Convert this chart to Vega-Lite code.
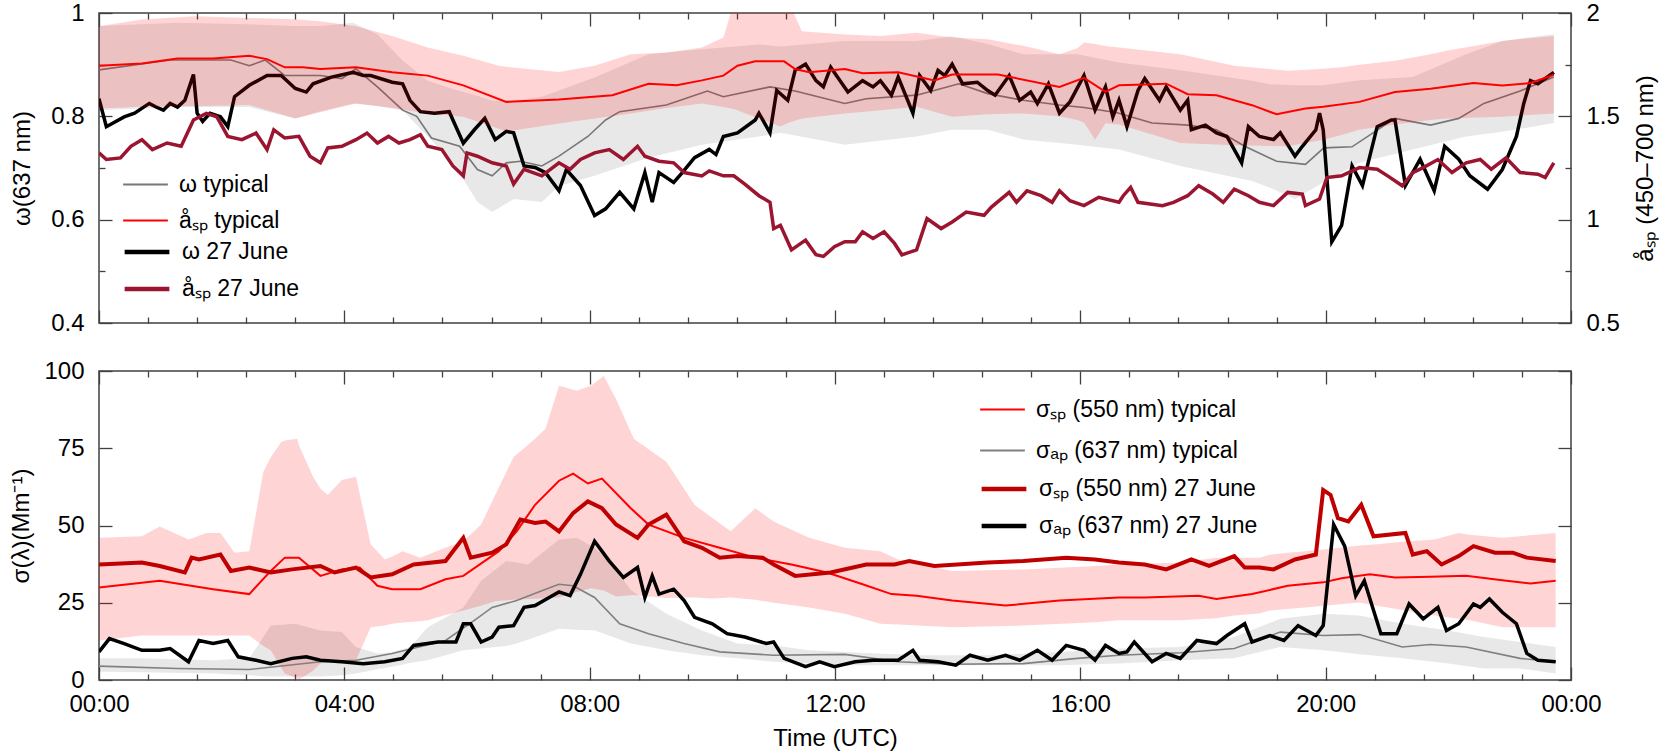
{
  "$schema": "https://vega.github.io/schema/vega-lite/v6.json",
  "autosize": {"type": "pad"},
  "padding": {"left": 9, "top": 0, "right": 4, "bottom": 0},
  "background": "white",
  "config": {
    "font": "Liberation Sans",
    "view": {"stroke": "#404040", "strokeWidth": 1.5},
    "axis": {
      "grid": false, "domain": false,
      "labelFont": "Liberation Sans", "labelFontSize": 24, "labelColor": "#000",
      "titleFont": "Liberation Sans", "titleFontSize": 24, "titleFontWeight": "normal", "titleColor": "#000",
      "tickColor": "#404040", "tickWidth": 1.3,
      "labelFlush": false, "labelOverlap": false, "labelPadding": 28
    },
    "legend": {"labelFont": "Liberation Sans", "labelFontSize": 23, "labelColor": "#000", "symbolType": "stroke", "symbolSize": 2000, "labelOffset": 10, "labelLimit": 500}
  },
  "datasets": {
    "wl": [
      {"s":"ω typical","t":0,"v":0.890},{"s":"ω typical","t":1.16,"v":0.909},{"s":"ω typical","t":2.15,"v":0.909},{"s":"ω typical","t":2.45,"v":0.898},{"s":"ω typical","t":2.71,"v":0.909},{"s":"ω typical","t":3.03,"v":0.879},{"s":"ω typical","t":3.61,"v":0.879},{"s":"ω typical","t":3.96,"v":0.873},{"s":"ω typical","t":4.19,"v":0.892},{"s":"ω typical","t":4.54,"v":0.857},{"s":"ω typical","t":4.95,"v":0.812},{"s":"ω typical","t":5.18,"v":0.800},{"s":"ω typical","t":5.42,"v":0.758},{"s":"ω typical","t":5.88,"v":0.742},{"s":"ω typical","t":6.17,"v":0.697},{"s":"ω typical","t":6.41,"v":0.685},{"s":"ω typical","t":6.64,"v":0.710},{"s":"ω typical","t":6.87,"v":0.713},{"s":"ω typical","t":7.22,"v":0.704},{"s":"ω typical","t":7.5,"v":0.723},{"s":"ω typical","t":7.97,"v":0.761},{"s":"ω typical","t":8.26,"v":0.793},{"s":"ω typical","t":8.49,"v":0.809},{"s":"ω typical","t":9.25,"v":0.822},{"s":"ω typical","t":9.92,"v":0.849},{"s":"ω typical","t":10.18,"v":0.838},{"s":"ω typical","t":10.94,"v":0.857},{"s":"ω typical","t":11.35,"v":0.849},{"s":"ω typical","t":12.16,"v":0.825},{"s":"ω typical","t":12.51,"v":0.834},{"s":"ω typical","t":13.33,"v":0.841},{"s":"ω typical","t":14.02,"v":0.863},{"s":"ω typical","t":14.49,"v":0.844},{"s":"ω typical","t":15.07,"v":0.831},{"s":"ω typical","t":15.66,"v":0.822},{"s":"ω typical","t":16.06,"v":0.817},{"s":"ω typical","t":16.6,"v":0.807},{"s":"ω typical","t":17.17,"v":0.787},{"s":"ω typical","t":17.76,"v":0.783},{"s":"ω typical","t":18.22,"v":0.774},{"s":"ω typical","t":18.68,"v":0.742},{"s":"ω typical","t":19.2,"v":0.713},{"s":"ω typical","t":19.67,"v":0.707},{"s":"ω typical","t":19.97,"v":0.739},{"s":"ω typical","t":20.43,"v":0.741},{"s":"ω typical","t":21.13,"v":0.796},{"s":"ω typical","t":21.71,"v":0.783},{"s":"ω typical","t":22.17,"v":0.796},{"s":"ω typical","t":22.58,"v":0.825},{"s":"ω typical","t":23.17,"v":0.849},{"s":"ω typical","t":23.72,"v":0.876},
      {"s":"ω 27 June","t":0,"v":0.834},{"s":"ω 27 June","t":0.12,"v":0.780},{"s":"ω 27 June","t":0.41,"v":0.799},{"s":"ω 27 June","t":0.58,"v":0.806},{"s":"ω 27 June","t":0.82,"v":0.825},{"s":"ω 27 June","t":0.93,"v":0.818},{"s":"ω 27 June","t":1.05,"v":0.812},{"s":"ω 27 June","t":1.16,"v":0.825},{"s":"ω 27 June","t":1.28,"v":0.818},{"s":"ω 27 June","t":1.4,"v":0.831},{"s":"ω 27 June","t":1.54,"v":0.881},{"s":"ω 27 June","t":1.6,"v":0.806},{"s":"ω 27 June","t":1.69,"v":0.790},{"s":"ω 27 June","t":1.81,"v":0.806},{"s":"ω 27 June","t":1.98,"v":0.799},{"s":"ω 27 June","t":2.1,"v":0.780},{"s":"ω 27 June","t":2.21,"v":0.838},{"s":"ω 27 June","t":2.45,"v":0.860},{"s":"ω 27 June","t":2.74,"v":0.879},{"s":"ω 27 June","t":2.97,"v":0.879},{"s":"ω 27 June","t":3.2,"v":0.854},{"s":"ω 27 June","t":3.38,"v":0.847},{"s":"ω 27 June","t":3.49,"v":0.863},{"s":"ω 27 June","t":3.79,"v":0.876},{"s":"ω 27 June","t":4.14,"v":0.885},{"s":"ω 27 June","t":4.31,"v":0.879},{"s":"ω 27 June","t":4.43,"v":0.879},{"s":"ω 27 June","t":4.78,"v":0.866},{"s":"ω 27 June","t":4.95,"v":0.863},{"s":"ω 27 June","t":5.07,"v":0.831},{"s":"ω 27 June","t":5.24,"v":0.809},{"s":"ω 27 June","t":5.47,"v":0.806},{"s":"ω 27 June","t":5.71,"v":0.809},{"s":"ω 27 June","t":5.94,"v":0.748},{"s":"ω 27 June","t":6.12,"v":0.774},{"s":"ω 27 June","t":6.29,"v":0.796},{"s":"ω 27 June","t":6.46,"v":0.755},{"s":"ω 27 June","t":6.64,"v":0.771},{"s":"ω 27 June","t":6.76,"v":0.768},{"s":"ω 27 June","t":6.93,"v":0.704},{"s":"ω 27 June","t":7.11,"v":0.701},{"s":"ω 27 June","t":7.28,"v":0.691},{"s":"ω 27 June","t":7.5,"v":0.656},{"s":"ω 27 June","t":7.62,"v":0.697},{"s":"ω 27 June","t":7.85,"v":0.666},{"s":"ω 27 June","t":8.08,"v":0.608},{"s":"ω 27 June","t":8.26,"v":0.621},{"s":"ω 27 June","t":8.49,"v":0.653},{"s":"ω 27 June","t":8.72,"v":0.621},{"s":"ω 27 June","t":8.9,"v":0.691},{"s":"ω 27 June","t":9.02,"v":0.634},{"s":"ω 27 June","t":9.13,"v":0.691},{"s":"ω 27 June","t":9.37,"v":0.672},{"s":"ω 27 June","t":9.51,"v":0.691},{"s":"ω 27 June","t":9.71,"v":0.720},{"s":"ω 27 June","t":9.95,"v":0.736},{"s":"ω 27 June","t":10.06,"v":0.726},{"s":"ω 27 June","t":10.18,"v":0.761},{"s":"ω 27 June","t":10.41,"v":0.768},{"s":"ω 27 June","t":10.7,"v":0.793},{"s":"ω 27 June","t":10.76,"v":0.806},{"s":"ω 27 June","t":10.94,"v":0.768},{"s":"ω 27 June","t":11.05,"v":0.850},{"s":"ω 27 June","t":11.23,"v":0.831},{"s":"ω 27 June","t":11.35,"v":0.889},{"s":"ω 27 June","t":11.52,"v":0.901},{"s":"ω 27 June","t":11.69,"v":0.869},{"s":"ω 27 June","t":11.81,"v":0.857},{"s":"ω 27 June","t":11.93,"v":0.895},{"s":"ω 27 June","t":12.04,"v":0.876},{"s":"ω 27 June","t":12.21,"v":0.847},{"s":"ω 27 June","t":12.45,"v":0.869},{"s":"ω 27 June","t":12.62,"v":0.857},{"s":"ω 27 June","t":12.74,"v":0.869},{"s":"ω 27 June","t":12.92,"v":0.841},{"s":"ω 27 June","t":13.03,"v":0.876},{"s":"ω 27 June","t":13.27,"v":0.806},{"s":"ω 27 June","t":13.38,"v":0.879},{"s":"ω 27 June","t":13.56,"v":0.850},{"s":"ω 27 June","t":13.68,"v":0.889},{"s":"ω 27 June","t":13.79,"v":0.879},{"s":"ω 27 June","t":13.91,"v":0.901},{"s":"ω 27 June","t":14.08,"v":0.863},{"s":"ω 27 June","t":14.32,"v":0.866},{"s":"ω 27 June","t":14.49,"v":0.850},{"s":"ω 27 June","t":14.61,"v":0.841},{"s":"ω 27 June","t":14.84,"v":0.879},{"s":"ω 27 June","t":15.01,"v":0.831},{"s":"ω 27 June","t":15.19,"v":0.847},{"s":"ω 27 June","t":15.3,"v":0.825},{"s":"ω 27 June","t":15.48,"v":0.863},{"s":"ω 27 June","t":15.66,"v":0.806},{"s":"ω 27 June","t":15.83,"v":0.828},{"s":"ω 27 June","t":16.06,"v":0.879},{"s":"ω 27 June","t":16.24,"v":0.812},{"s":"ω 27 June","t":16.41,"v":0.857},{"s":"ω 27 June","t":16.53,"v":0.799},{"s":"ω 27 June","t":16.63,"v":0.831},{"s":"ω 27 June","t":16.76,"v":0.780},{"s":"ω 27 June","t":16.94,"v":0.850},{"s":"ω 27 June","t":17.05,"v":0.873},{"s":"ω 27 June","t":17.29,"v":0.831},{"s":"ω 27 June","t":17.4,"v":0.857},{"s":"ω 27 June","t":17.63,"v":0.812},{"s":"ω 27 June","t":17.75,"v":0.831},{"s":"ω 27 June","t":17.81,"v":0.774},{"s":"ω 27 June","t":18.04,"v":0.783},{"s":"ω 27 June","t":18.22,"v":0.768},{"s":"ω 27 June","t":18.39,"v":0.761},{"s":"ω 27 June","t":18.63,"v":0.710},{"s":"ω 27 June","t":18.74,"v":0.780},{"s":"ω 27 June","t":18.92,"v":0.761},{"s":"ω 27 June","t":19.15,"v":0.755},{"s":"ω 27 June","t":19.26,"v":0.768},{"s":"ω 27 June","t":19.5,"v":0.723},{"s":"ω 27 June","t":19.62,"v":0.742},{"s":"ω 27 June","t":19.84,"v":0.774},{"s":"ω 27 June","t":19.9,"v":0.806},{"s":"ω 27 June","t":19.96,"v":0.774},{"s":"ω 27 June","t":20.1,"v":0.557},{"s":"ω 27 June","t":20.26,"v":0.589},{"s":"ω 27 June","t":20.43,"v":0.704},{"s":"ω 27 June","t":20.6,"v":0.666},{"s":"ω 27 June","t":20.84,"v":0.780},{"s":"ω 27 June","t":21.07,"v":0.793},{"s":"ω 27 June","t":21.13,"v":0.793},{"s":"ω 27 June","t":21.3,"v":0.666},{"s":"ω 27 June","t":21.54,"v":0.717},{"s":"ω 27 June","t":21.77,"v":0.656},{"s":"ω 27 June","t":21.94,"v":0.742},{"s":"ω 27 June","t":22.17,"v":0.717},{"s":"ω 27 June","t":22.35,"v":0.685},{"s":"ω 27 June","t":22.64,"v":0.659},{"s":"ω 27 June","t":22.88,"v":0.697},{"s":"ω 27 June","t":23.11,"v":0.761},{"s":"ω 27 June","t":23.23,"v":0.825},{"s":"ω 27 June","t":23.34,"v":0.869},{"s":"ω 27 June","t":23.46,"v":0.863},{"s":"ω 27 June","t":23.72,"v":0.885}
    ],
    "al": [
      {"s":"åₛₚ typical","t":0,"v":1.745},{"s":"åₛₚ typical","t":0.7,"v":1.756},{"s":"åₛₚ typical","t":1.28,"v":1.780},{"s":"åₛₚ typical","t":1.86,"v":1.780},{"s":"åₛₚ typical","t":2.45,"v":1.793},{"s":"åₛₚ typical","t":2.74,"v":1.777},{"s":"åₛₚ typical","t":3.03,"v":1.737},{"s":"åₛₚ typical","t":3.32,"v":1.737},{"s":"åₛₚ typical","t":3.61,"v":1.729},{"s":"åₛₚ typical","t":4.19,"v":1.737},{"s":"åₛₚ typical","t":4.78,"v":1.713},{"s":"åₛₚ typical","t":5.36,"v":1.697},{"s":"åₛₚ typical","t":5.94,"v":1.650},{"s":"åₛₚ typical","t":6.64,"v":1.570},{"s":"åₛₚ typical","t":7.5,"v":1.581},{"s":"åₛₚ typical","t":8.37,"v":1.602},{"s":"åₛₚ typical","t":8.96,"v":1.658},{"s":"åₛₚ typical","t":9.42,"v":1.650},{"s":"åₛₚ typical","t":9.83,"v":1.674},{"s":"åₛₚ typical","t":10.18,"v":1.697},{"s":"åₛₚ typical","t":10.41,"v":1.745},{"s":"åₛₚ typical","t":10.7,"v":1.766},{"s":"åₛₚ typical","t":11.17,"v":1.766},{"s":"åₛₚ typical","t":11.35,"v":1.729},{"s":"åₛₚ typical","t":11.58,"v":1.713},{"s":"åₛₚ typical","t":12.16,"v":1.729},{"s":"åₛₚ typical","t":12.45,"v":1.709},{"s":"åₛₚ typical","t":13.03,"v":1.713},{"s":"åₛₚ typical","t":13.62,"v":1.674},{"s":"åₛₚ typical","t":13.91,"v":1.702},{"s":"åₛₚ typical","t":14.66,"v":1.702},{"s":"åₛₚ typical","t":15.66,"v":1.642},{"s":"åₛₚ typical","t":16.06,"v":1.686},{"s":"åₛₚ typical","t":16.41,"v":1.618},{"s":"åₛₚ typical","t":16.63,"v":1.650},{"s":"åₛₚ typical","t":17.05,"v":1.654},{"s":"åₛₚ typical","t":17.4,"v":1.658},{"s":"åₛₚ typical","t":17.75,"v":1.607},{"s":"åₛₚ typical","t":18.22,"v":1.602},{"s":"åₛₚ typical","t":18.8,"v":1.554},{"s":"åₛₚ typical","t":19.2,"v":1.510},{"s":"åₛₚ typical","t":19.67,"v":1.538},{"s":"åₛₚ typical","t":19.96,"v":1.546},{"s":"åₛₚ typical","t":20.55,"v":1.570},{"s":"åₛₚ typical","t":21.13,"v":1.618},{"s":"åₛₚ typical","t":21.71,"v":1.634},{"s":"åₛₚ typical","t":22.41,"v":1.661},{"s":"åₛₚ typical","t":22.88,"v":1.649},{"s":"åₛₚ typical","t":23.34,"v":1.661},{"s":"åₛₚ typical","t":23.72,"v":1.701},
      {"s":"åₛₚ 27 June","t":0,"v":1.323},{"s":"åₛₚ 27 June","t":0.12,"v":1.291},{"s":"åₛₚ 27 June","t":0.35,"v":1.299},{"s":"åₛₚ 27 June","t":0.52,"v":1.355},{"s":"åₛₚ 27 June","t":0.7,"v":1.387},{"s":"åₛₚ 27 June","t":0.87,"v":1.339},{"s":"åₛₚ 27 June","t":1.11,"v":1.371},{"s":"åₛₚ 27 June","t":1.34,"v":1.355},{"s":"åₛₚ 27 June","t":1.54,"v":1.482},{"s":"åₛₚ 27 June","t":1.75,"v":1.514},{"s":"åₛₚ 27 June","t":1.92,"v":1.498},{"s":"åₛₚ 27 June","t":2.1,"v":1.403},{"s":"åₛₚ 27 June","t":2.33,"v":1.387},{"s":"åₛₚ 27 June","t":2.56,"v":1.419},{"s":"åₛₚ 27 June","t":2.74,"v":1.339},{"s":"åₛₚ 27 June","t":2.85,"v":1.435},{"s":"åₛₚ 27 June","t":3.03,"v":1.395},{"s":"åₛₚ 27 June","t":3.26,"v":1.403},{"s":"åₛₚ 27 June","t":3.44,"v":1.307},{"s":"åₛₚ 27 June","t":3.61,"v":1.275},{"s":"åₛₚ 27 June","t":3.73,"v":1.347},{"s":"åₛₚ 27 June","t":3.96,"v":1.355},{"s":"åₛₚ 27 June","t":4.19,"v":1.387},{"s":"åₛₚ 27 June","t":4.37,"v":1.419},{"s":"åₛₚ 27 June","t":4.54,"v":1.371},{"s":"åₛₚ 27 June","t":4.72,"v":1.403},{"s":"åₛₚ 27 June","t":4.89,"v":1.371},{"s":"åₛₚ 27 June","t":5.07,"v":1.387},{"s":"åₛₚ 27 June","t":5.24,"v":1.411},{"s":"åₛₚ 27 June","t":5.36,"v":1.355},{"s":"åₛₚ 27 June","t":5.59,"v":1.339},{"s":"åₛₚ 27 June","t":5.77,"v":1.260},{"s":"åₛₚ 27 June","t":5.94,"v":1.212},{"s":"åₛₚ 27 June","t":6.0,"v":1.323},{"s":"åₛₚ 27 June","t":6.17,"v":1.307},{"s":"åₛₚ 27 June","t":6.41,"v":1.275},{"s":"åₛₚ 27 June","t":6.64,"v":1.260},{"s":"åₛₚ 27 June","t":6.76,"v":1.172},{"s":"åₛₚ 27 June","t":6.93,"v":1.244},{"s":"åₛₚ 27 June","t":7.22,"v":1.212},{"s":"åₛₚ 27 June","t":7.5,"v":1.275},{"s":"åₛₚ 27 June","t":7.68,"v":1.244},{"s":"åₛₚ 27 June","t":7.85,"v":1.291},{"s":"åₛₚ 27 June","t":8.08,"v":1.323},{"s":"åₛₚ 27 June","t":8.32,"v":1.339},{"s":"åₛₚ 27 June","t":8.55,"v":1.291},{"s":"åₛₚ 27 June","t":8.78,"v":1.355},{"s":"åₛₚ 27 June","t":8.9,"v":1.307},{"s":"åₛₚ 27 June","t":9.13,"v":1.283},{"s":"åₛₚ 27 June","t":9.37,"v":1.275},{"s":"åₛₚ 27 June","t":9.54,"v":1.228},{"s":"åₛₚ 27 June","t":9.83,"v":1.212},{"s":"åₛₚ 27 June","t":9.95,"v":1.236},{"s":"åₛₚ 27 June","t":10.18,"v":1.212},{"s":"åₛₚ 27 June","t":10.35,"v":1.212},{"s":"åₛₚ 27 June","t":10.53,"v":1.172},{"s":"åₛₚ 27 June","t":10.76,"v":1.116},{"s":"åₛₚ 27 June","t":10.94,"v":1.084},{"s":"åₛₚ 27 June","t":11.0,"v":0.957},{"s":"åₛₚ 27 June","t":11.11,"v":0.973},{"s":"åₛₚ 27 June","t":11.29,"v":0.854},{"s":"åₛₚ 27 June","t":11.52,"v":0.901},{"s":"åₛₚ 27 June","t":11.69,"v":0.830},{"s":"åₛₚ 27 June","t":11.81,"v":0.822},{"s":"åₛₚ 27 June","t":11.99,"v":0.869},{"s":"åₛₚ 27 June","t":12.16,"v":0.893},{"s":"åₛₚ 27 June","t":12.33,"v":0.893},{"s":"åₛₚ 27 June","t":12.45,"v":0.941},{"s":"åₛₚ 27 June","t":12.62,"v":0.909},{"s":"åₛₚ 27 June","t":12.8,"v":0.941},{"s":"åₛₚ 27 June","t":12.97,"v":0.885},{"s":"åₛₚ 27 June","t":13.09,"v":0.830},{"s":"åₛₚ 27 June","t":13.33,"v":0.854},{"s":"åₛₚ 27 June","t":13.5,"v":1.005},{"s":"åₛₚ 27 June","t":13.73,"v":0.957},{"s":"åₛₚ 27 June","t":13.91,"v":0.989},{"s":"åₛₚ 27 June","t":14.14,"v":1.037},{"s":"åₛₚ 27 June","t":14.43,"v":1.021},{"s":"åₛₚ 27 June","t":14.55,"v":1.061},{"s":"åₛₚ 27 June","t":14.84,"v":1.132},{"s":"åₛₚ 27 June","t":14.96,"v":1.084},{"s":"åₛₚ 27 June","t":15.13,"v":1.140},{"s":"åₛₚ 27 June","t":15.36,"v":1.116},{"s":"åₛₚ 27 June","t":15.54,"v":1.084},{"s":"åₛₚ 27 June","t":15.66,"v":1.140},{"s":"åₛₚ 27 June","t":15.83,"v":1.092},{"s":"åₛₚ 27 June","t":16.06,"v":1.068},{"s":"åₛₚ 27 June","t":16.3,"v":1.108},{"s":"åₛₚ 27 June","t":16.63,"v":1.084},{"s":"åₛₚ 27 June","t":16.7,"v":1.116},{"s":"åₛₚ 27 June","t":16.82,"v":1.156},{"s":"åₛₚ 27 June","t":16.94,"v":1.084},{"s":"åₛₚ 27 June","t":17.34,"v":1.068},{"s":"åₛₚ 27 June","t":17.52,"v":1.084},{"s":"åₛₚ 27 June","t":17.75,"v":1.116},{"s":"åₛₚ 27 June","t":17.93,"v":1.164},{"s":"åₛₚ 27 June","t":18.16,"v":1.124},{"s":"åₛₚ 27 June","t":18.33,"v":1.084},{"s":"åₛₚ 27 June","t":18.51,"v":1.148},{"s":"åₛₚ 27 June","t":18.74,"v":1.116},{"s":"åₛₚ 27 June","t":18.92,"v":1.084},{"s":"åₛₚ 27 June","t":19.15,"v":1.068},{"s":"åₛₚ 27 June","t":19.38,"v":1.132},{"s":"åₛₚ 27 June","t":19.62,"v":1.124},{"s":"åₛₚ 27 June","t":19.67,"v":1.068},{"s":"åₛₚ 27 June","t":19.9,"v":1.100},{"s":"åₛₚ 27 June","t":20.02,"v":1.204},{"s":"åₛₚ 27 June","t":20.26,"v":1.212},{"s":"åₛₚ 27 June","t":20.55,"v":1.252},{"s":"åₛₚ 27 June","t":20.84,"v":1.244},{"s":"åₛₚ 27 June","t":21.01,"v":1.212},{"s":"åₛₚ 27 June","t":21.25,"v":1.164},{"s":"åₛₚ 27 June","t":21.42,"v":1.228},{"s":"åₛₚ 27 June","t":21.59,"v":1.252},{"s":"åₛₚ 27 June","t":21.83,"v":1.291},{"s":"åₛₚ 27 June","t":22.06,"v":1.228},{"s":"åₛₚ 27 June","t":22.29,"v":1.275},{"s":"åₛₚ 27 June","t":22.52,"v":1.291},{"s":"åₛₚ 27 June","t":22.7,"v":1.244},{"s":"åₛₚ 27 June","t":22.94,"v":1.299},{"s":"åₛₚ 27 June","t":23.17,"v":1.228},{"s":"åₛₚ 27 June","t":23.46,"v":1.220},{"s":"åₛₚ 27 June","t":23.58,"v":1.204},{"s":"åₛₚ 27 June","t":23.72,"v":1.275}
    ],
    "wb": [
      {"t":0,"lo":0.812,"hi":0.975},{"t":1.28,"lo":0.818,"hi":0.981},{"t":2.45,"lo":0.818,"hi":0.978},{"t":3.2,"lo":0.796,"hi":0.975},{"t":3.61,"lo":0.810,"hi":0.975},{"t":4.14,"lo":0.825,"hi":0.981},{"t":4.54,"lo":0.820,"hi":0.959},{"t":4.95,"lo":0.812,"hi":0.908},{"t":5.36,"lo":0.761,"hi":0.869},{"t":5.77,"lo":0.710,"hi":0.853},{"t":6.17,"lo":0.634,"hi":0.840},{"t":6.41,"lo":0.615,"hi":0.830},{"t":6.76,"lo":0.640,"hi":0.830},{"t":7.22,"lo":0.634,"hi":0.838},{"t":7.5,"lo":0.665,"hi":0.850},{"t":8.08,"lo":0.685,"hi":0.875},{"t":8.96,"lo":0.720,"hi":0.920},{"t":9.83,"lo":0.745,"hi":0.930},{"t":10.76,"lo":0.761,"hi":0.939},{"t":11.11,"lo":0.768,"hi":0.935},{"t":12.16,"lo":0.745,"hi":0.946},{"t":13.33,"lo":0.761,"hi":0.946},{"t":13.91,"lo":0.774,"hi":0.955},{"t":14.49,"lo":0.774,"hi":0.940},{"t":15.07,"lo":0.755,"hi":0.920},{"t":15.95,"lo":0.745,"hi":0.920},{"t":16.63,"lo":0.736,"hi":0.904},{"t":17.63,"lo":0.704,"hi":0.889},{"t":18.8,"lo":0.675,"hi":0.869},{"t":19.09,"lo":0.662,"hi":0.862},{"t":19.5,"lo":0.640,"hi":0.860},{"t":19.96,"lo":0.672,"hi":0.860},{"t":20.55,"lo":0.710,"hi":0.870},{"t":21.42,"lo":0.736,"hi":0.876},{"t":22.29,"lo":0.761,"hi":0.920},{"t":22.88,"lo":0.770,"hi":0.946},{"t":23.72,"lo":0.787,"hi":0.959}
    ],
    "ab": [
      {"t":0,"lo":1.538,"hi":1.936},{"t":0.7,"lo":1.546,"hi":1.968},{"t":1.57,"lo":1.550,"hi":1.984},{"t":2.45,"lo":1.555,"hi":1.976},{"t":3.2,"lo":1.490,"hi":1.970},{"t":3.61,"lo":1.520,"hi":1.960},{"t":4.19,"lo":1.562,"hi":1.936},{"t":4.78,"lo":1.540,"hi":1.889},{"t":5.36,"lo":1.514,"hi":1.833},{"t":5.94,"lo":1.498,"hi":1.793},{"t":6.52,"lo":1.440,"hi":1.745},{"t":6.64,"lo":1.427,"hi":1.740},{"t":7.5,"lo":1.465,"hi":1.715},{"t":8.08,"lo":1.490,"hi":1.745},{"t":8.67,"lo":1.514,"hi":1.801},{"t":9.25,"lo":1.540,"hi":1.809},{"t":9.83,"lo":1.562,"hi":1.833},{"t":10.18,"lo":1.545,"hi":1.881},{"t":10.35,"lo":1.535,"hi":2.05},{"t":11.11,"lo":1.451,"hi":2.05},{"t":11.25,"lo":1.470,"hi":2.05},{"t":11.46,"lo":1.490,"hi":1.912},{"t":12.16,"lo":1.514,"hi":1.896},{"t":12.74,"lo":1.530,"hi":1.889},{"t":13.33,"lo":1.546,"hi":1.904},{"t":13.91,"lo":1.498,"hi":1.881},{"t":14.49,"lo":1.510,"hi":1.873},{"t":15.07,"lo":1.514,"hi":1.841},{"t":15.66,"lo":1.500,"hi":1.801},{"t":15.95,"lo":1.482,"hi":1.830},{"t":16.06,"lo":1.470,"hi":1.857},{"t":16.24,"lo":1.387,"hi":1.850},{"t":16.41,"lo":1.467,"hi":1.840},{"t":16.63,"lo":1.460,"hi":1.833},{"t":17.63,"lo":1.371,"hi":1.801},{"t":18.51,"lo":1.360,"hi":1.745},{"t":19.38,"lo":1.355,"hi":1.721},{"t":19.96,"lo":1.387,"hi":1.730},{"t":20.26,"lo":1.410,"hi":1.737},{"t":20.55,"lo":1.435,"hi":1.750},{"t":21.13,"lo":1.460,"hi":1.769},{"t":21.71,"lo":1.482,"hi":1.800},{"t":21.97,"lo":1.490,"hi":1.817},{"t":22.88,"lo":1.498,"hi":1.865},{"t":23.72,"lo":1.514,"hi":1.889}
    ],
    "sl": [
      {"s":"σₛₚ (550 nm) typical","t":0,"v":29.9},{"s":"σₛₚ (550 nm) typical","t":0.99,"v":32.1},{"s":"σₛₚ (550 nm) typical","t":1.86,"v":29.4},{"s":"σₛₚ (550 nm) typical","t":2.45,"v":27.8},{"s":"σₛₚ (550 nm) typical","t":2.8,"v":35.3},{"s":"σₛₚ (550 nm) typical","t":3.03,"v":39.6},{"s":"σₛₚ (550 nm) typical","t":3.26,"v":39.6},{"s":"σₛₚ (550 nm) typical","t":3.61,"v":33.7},{"s":"σₛₚ (550 nm) typical","t":3.96,"v":35.8},{"s":"σₛₚ (550 nm) typical","t":4.25,"v":36.4},{"s":"σₛₚ (550 nm) typical","t":4.54,"v":30.5},{"s":"σₛₚ (550 nm) typical","t":4.78,"v":29.4},{"s":"σₛₚ (550 nm) typical","t":5.24,"v":29.4},{"s":"σₛₚ (550 nm) typical","t":5.65,"v":32.6},{"s":"σₛₚ (550 nm) typical","t":5.94,"v":33.7},{"s":"σₛₚ (550 nm) typical","t":6.52,"v":41.7},{"s":"σₛₚ (550 nm) typical","t":6.81,"v":48.1},{"s":"σₛₚ (550 nm) typical","t":7.11,"v":56.7},{"s":"σₛₚ (550 nm) typical","t":7.5,"v":64.5},{"s":"σₛₚ (550 nm) typical","t":7.73,"v":66.8},{"s":"σₛₚ (550 nm) typical","t":7.97,"v":63.6},{"s":"σₛₚ (550 nm) typical","t":8.2,"v":65.2},{"s":"σₛₚ (550 nm) typical","t":8.67,"v":55.6},{"s":"σₛₚ (550 nm) typical","t":8.96,"v":50.3},{"s":"σₛₚ (550 nm) typical","t":9.54,"v":46.0},{"s":"σₛₚ (550 nm) typical","t":10.12,"v":42.8},{"s":"σₛₚ (550 nm) typical","t":10.7,"v":39.6},{"s":"σₛₚ (550 nm) typical","t":11.29,"v":37.4},{"s":"σₛₚ (550 nm) typical","t":11.87,"v":34.8},{"s":"σₛₚ (550 nm) typical","t":12.45,"v":31.0},{"s":"σₛₚ (550 nm) typical","t":12.92,"v":27.8},{"s":"σₛₚ (550 nm) typical","t":13.33,"v":27.3},{"s":"σₛₚ (550 nm) typical","t":13.91,"v":25.7},{"s":"σₛₚ (550 nm) typical","t":14.78,"v":24.1},{"s":"σₛₚ (550 nm) typical","t":15.66,"v":25.7},{"s":"σₛₚ (550 nm) typical","t":16.63,"v":26.7},{"s":"σₛₚ (550 nm) typical","t":17.05,"v":26.7},{"s":"σₛₚ (550 nm) typical","t":17.93,"v":27.3},{"s":"σₛₚ (550 nm) typical","t":18.22,"v":26.2},{"s":"σₛₚ (550 nm) typical","t":18.8,"v":27.8},{"s":"σₛₚ (550 nm) typical","t":19.38,"v":30.5},{"s":"σₛₚ (550 nm) typical","t":19.96,"v":31.6},{"s":"σₛₚ (550 nm) typical","t":20.26,"v":32.9},{"s":"σₛₚ (550 nm) typical","t":20.72,"v":34.2},{"s":"σₛₚ (550 nm) typical","t":21.13,"v":33.2},{"s":"σₛₚ (550 nm) typical","t":21.71,"v":33.4},{"s":"σₛₚ (550 nm) typical","t":22.29,"v":33.7},{"s":"σₛₚ (550 nm) typical","t":22.88,"v":32.3},{"s":"σₛₚ (550 nm) typical","t":23.34,"v":31.2},{"s":"σₛₚ (550 nm) typical","t":23.75,"v":32.1},
      {"s":"σₐₚ (637 nm) typical","t":0,"v":4.5},{"s":"σₐₚ (637 nm) typical","t":1.28,"v":3.7},{"s":"σₐₚ (637 nm) typical","t":2.45,"v":3.4},{"s":"σₐₚ (637 nm) typical","t":3.61,"v":5.9},{"s":"σₐₚ (637 nm) typical","t":4.19,"v":6.4},{"s":"σₐₚ (637 nm) typical","t":4.78,"v":8.6},{"s":"σₐₚ (637 nm) typical","t":5.65,"v":12.8},{"s":"σₐₚ (637 nm) typical","t":6.12,"v":19.3},{"s":"σₐₚ (637 nm) typical","t":6.41,"v":23.5},{"s":"σₐₚ (637 nm) typical","t":6.81,"v":25.7},{"s":"σₐₚ (637 nm) typical","t":7.22,"v":28.9},{"s":"σₐₚ (637 nm) typical","t":7.5,"v":31.0},{"s":"σₐₚ (637 nm) typical","t":7.73,"v":30.5},{"s":"σₐₚ (637 nm) typical","t":8.08,"v":26.7},{"s":"σₐₚ (637 nm) typical","t":8.49,"v":18.2},{"s":"σₐₚ (637 nm) typical","t":8.96,"v":15.0},{"s":"σₐₚ (637 nm) typical","t":9.54,"v":11.8},{"s":"σₐₚ (637 nm) typical","t":10.12,"v":9.1},{"s":"σₐₚ (637 nm) typical","t":11.0,"v":8.0},{"s":"σₐₚ (637 nm) typical","t":12.16,"v":8.3},{"s":"σₐₚ (637 nm) typical","t":13.03,"v":5.9},{"s":"σₐₚ (637 nm) typical","t":13.91,"v":5.1},{"s":"σₐₚ (637 nm) typical","t":15.07,"v":5.3},{"s":"σₐₚ (637 nm) typical","t":15.95,"v":7.0},{"s":"σₐₚ (637 nm) typical","t":16.63,"v":8.0},{"s":"σₐₚ (637 nm) typical","t":17.63,"v":8.8},{"s":"σₐₚ (637 nm) typical","t":18.51,"v":10.2},{"s":"σₐₚ (637 nm) typical","t":19.26,"v":15.5},{"s":"σₐₚ (637 nm) typical","t":19.96,"v":14.4},{"s":"σₐₚ (637 nm) typical","t":20.55,"v":14.7},{"s":"σₐₚ (637 nm) typical","t":21.25,"v":10.7},{"s":"σₐₚ (637 nm) typical","t":21.71,"v":11.5},{"s":"σₐₚ (637 nm) typical","t":22.29,"v":10.7},{"s":"σₐₚ (637 nm) typical","t":23.17,"v":7.0},{"s":"σₐₚ (637 nm) typical","t":23.75,"v":5.9},
      {"s":"σₛₚ (550 nm) 27 June","t":0,"v":37.4},{"s":"σₛₚ (550 nm) 27 June","t":0.7,"v":38.0},{"s":"σₛₚ (550 nm) 27 June","t":0.99,"v":36.9},{"s":"σₛₚ (550 nm) 27 June","t":1.4,"v":34.8},{"s":"σₛₚ (550 nm) 27 June","t":1.51,"v":39.6},{"s":"σₛₚ (550 nm) 27 June","t":1.63,"v":39.0},{"s":"σₛₚ (550 nm) 27 June","t":1.98,"v":40.6},{"s":"σₛₚ (550 nm) 27 June","t":2.15,"v":35.3},{"s":"σₛₚ (550 nm) 27 June","t":2.45,"v":36.4},{"s":"σₛₚ (550 nm) 27 June","t":2.8,"v":34.8},{"s":"σₛₚ (550 nm) 27 June","t":3.15,"v":35.8},{"s":"σₛₚ (550 nm) 27 June","t":3.61,"v":36.9},{"s":"σₛₚ (550 nm) 27 June","t":3.84,"v":34.8},{"s":"σₛₚ (550 nm) 27 June","t":4.19,"v":36.4},{"s":"σₛₚ (550 nm) 27 June","t":4.43,"v":33.2},{"s":"σₛₚ (550 nm) 27 June","t":4.78,"v":34.2},{"s":"σₛₚ (550 nm) 27 June","t":5.13,"v":37.4},{"s":"σₛₚ (550 nm) 27 June","t":5.65,"v":38.5},{"s":"σₛₚ (550 nm) 27 June","t":5.94,"v":46.0},{"s":"σₛₚ (550 nm) 27 June","t":6.06,"v":39.6},{"s":"σₛₚ (550 nm) 27 June","t":6.41,"v":41.2},{"s":"σₛₚ (550 nm) 27 June","t":6.64,"v":43.9},{"s":"σₛₚ (550 nm) 27 June","t":6.87,"v":51.9},{"s":"σₛₚ (550 nm) 27 June","t":7.11,"v":50.8},{"s":"σₛₚ (550 nm) 27 June","t":7.28,"v":51.3},{"s":"σₛₚ (550 nm) 27 June","t":7.5,"v":48.1},{"s":"σₛₚ (550 nm) 27 June","t":7.73,"v":54.0},{"s":"σₛₚ (550 nm) 27 June","t":7.97,"v":57.8},{"s":"σₛₚ (550 nm) 27 June","t":8.2,"v":55.6},{"s":"σₛₚ (550 nm) 27 June","t":8.43,"v":50.3},{"s":"σₛₚ (550 nm) 27 June","t":8.78,"v":46.0},{"s":"σₛₚ (550 nm) 27 June","t":8.96,"v":50.3},{"s":"σₛₚ (550 nm) 27 June","t":9.25,"v":53.5},{"s":"σₛₚ (550 nm) 27 June","t":9.54,"v":44.9},{"s":"σₛₚ (550 nm) 27 June","t":9.83,"v":42.8},{"s":"σₛₚ (550 nm) 27 June","t":10.12,"v":39.6},{"s":"σₛₚ (550 nm) 27 June","t":10.41,"v":40.1},{"s":"σₛₚ (550 nm) 27 June","t":10.82,"v":39.6},{"s":"σₛₚ (550 nm) 27 June","t":11.0,"v":37.4},{"s":"σₛₚ (550 nm) 27 June","t":11.35,"v":33.7},{"s":"σₛₚ (550 nm) 27 June","t":11.93,"v":34.8},{"s":"σₛₚ (550 nm) 27 June","t":12.51,"v":37.4},{"s":"σₛₚ (550 nm) 27 June","t":12.97,"v":37.4},{"s":"σₛₚ (550 nm) 27 June","t":13.21,"v":38.5},{"s":"σₛₚ (550 nm) 27 June","t":13.62,"v":36.9},{"s":"σₛₚ (550 nm) 27 June","t":14.49,"v":38.0},{"s":"σₛₚ (550 nm) 27 June","t":15.07,"v":38.5},{"s":"σₛₚ (550 nm) 27 June","t":15.77,"v":39.6},{"s":"σₛₚ (550 nm) 27 June","t":16.24,"v":39.0},{"s":"σₛₚ (550 nm) 27 June","t":16.63,"v":38.0},{"s":"σₛₚ (550 nm) 27 June","t":17.05,"v":37.4},{"s":"σₛₚ (550 nm) 27 June","t":17.4,"v":35.8},{"s":"σₛₚ (550 nm) 27 June","t":17.81,"v":39.0},{"s":"σₛₚ (550 nm) 27 June","t":18.1,"v":36.9},{"s":"σₛₚ (550 nm) 27 June","t":18.51,"v":40.1},{"s":"σₛₚ (550 nm) 27 June","t":18.68,"v":36.4},{"s":"σₛₚ (550 nm) 27 June","t":18.92,"v":36.4},{"s":"σₛₚ (550 nm) 27 June","t":19.15,"v":35.8},{"s":"σₛₚ (550 nm) 27 June","t":19.5,"v":39.0},{"s":"σₛₚ (550 nm) 27 June","t":19.84,"v":40.6},{"s":"σₛₚ (550 nm) 27 June","t":19.96,"v":61.5},{"s":"σₛₚ (550 nm) 27 June","t":20.08,"v":59.9},{"s":"σₛₚ (550 nm) 27 June","t":20.2,"v":52.4},{"s":"σₛₚ (550 nm) 27 June","t":20.37,"v":51.3},{"s":"σₛₚ (550 nm) 27 June","t":20.58,"v":56.7},{"s":"σₛₚ (550 nm) 27 June","t":20.78,"v":46.5},{"s":"σₛₚ (550 nm) 27 June","t":21.3,"v":47.6},{"s":"σₛₚ (550 nm) 27 June","t":21.42,"v":40.6},{"s":"σₛₚ (550 nm) 27 June","t":21.65,"v":41.7},{"s":"σₛₚ (550 nm) 27 June","t":21.89,"v":37.4},{"s":"σₛₚ (550 nm) 27 June","t":22.17,"v":40.1},{"s":"σₛₚ (550 nm) 27 June","t":22.41,"v":43.3},{"s":"σₛₚ (550 nm) 27 June","t":22.76,"v":41.2},{"s":"σₛₚ (550 nm) 27 June","t":23.05,"v":41.2},{"s":"σₛₚ (550 nm) 27 June","t":23.28,"v":39.6},{"s":"σₛₚ (550 nm) 27 June","t":23.75,"v":38.5},
      {"s":"σₐₚ (637 nm) 27 June","t":0,"v":9.1},{"s":"σₐₚ (637 nm) 27 June","t":0.17,"v":13.4},{"s":"σₐₚ (637 nm) 27 June","t":0.41,"v":11.8},{"s":"σₐₚ (637 nm) 27 June","t":0.7,"v":9.6},{"s":"σₐₚ (637 nm) 27 June","t":0.99,"v":9.6},{"s":"σₐₚ (637 nm) 27 June","t":1.16,"v":10.2},{"s":"σₐₚ (637 nm) 27 June","t":1.46,"v":5.9},{"s":"σₐₚ (637 nm) 27 June","t":1.63,"v":12.8},{"s":"σₐₚ (637 nm) 27 June","t":1.86,"v":11.8},{"s":"σₐₚ (637 nm) 27 June","t":2.1,"v":12.8},{"s":"σₐₚ (637 nm) 27 June","t":2.27,"v":7.5},{"s":"σₐₚ (637 nm) 27 June","t":2.56,"v":6.4},{"s":"σₐₚ (637 nm) 27 June","t":2.8,"v":5.3},{"s":"σₐₚ (637 nm) 27 June","t":3.15,"v":7.0},{"s":"σₐₚ (637 nm) 27 June","t":3.38,"v":7.5},{"s":"σₐₚ (637 nm) 27 June","t":3.61,"v":6.4},{"s":"σₐₚ (637 nm) 27 June","t":3.96,"v":5.9},{"s":"σₐₚ (637 nm) 27 June","t":4.31,"v":5.3},{"s":"σₐₚ (637 nm) 27 June","t":4.66,"v":5.9},{"s":"σₐₚ (637 nm) 27 June","t":4.95,"v":7.0},{"s":"σₐₚ (637 nm) 27 June","t":5.13,"v":11.2},{"s":"σₐₚ (637 nm) 27 June","t":5.53,"v":12.3},{"s":"σₐₚ (637 nm) 27 June","t":5.82,"v":12.3},{"s":"σₐₚ (637 nm) 27 June","t":5.94,"v":18.2},{"s":"σₐₚ (637 nm) 27 June","t":6.06,"v":18.2},{"s":"σₐₚ (637 nm) 27 June","t":6.23,"v":12.3},{"s":"σₐₚ (637 nm) 27 June","t":6.41,"v":13.9},{"s":"σₐₚ (637 nm) 27 June","t":6.52,"v":17.1},{"s":"σₐₚ (637 nm) 27 June","t":6.76,"v":17.6},{"s":"σₐₚ (637 nm) 27 June","t":6.93,"v":23.5},{"s":"σₐₚ (637 nm) 27 June","t":7.11,"v":24.1},{"s":"σₐₚ (637 nm) 27 June","t":7.34,"v":26.7},{"s":"σₐₚ (637 nm) 27 June","t":7.5,"v":28.5},{"s":"σₐₚ (637 nm) 27 June","t":7.68,"v":27.3},{"s":"σₐₚ (637 nm) 27 June","t":7.85,"v":34.2},{"s":"σₐₚ (637 nm) 27 June","t":8.08,"v":44.9},{"s":"σₐₚ (637 nm) 27 June","t":8.32,"v":38.5},{"s":"σₐₚ (637 nm) 27 June","t":8.55,"v":33.2},{"s":"σₐₚ (637 nm) 27 June","t":8.78,"v":36.4},{"s":"σₐₚ (637 nm) 27 June","t":8.9,"v":26.7},{"s":"σₐₚ (637 nm) 27 June","t":9.02,"v":33.7},{"s":"σₐₚ (637 nm) 27 June","t":9.13,"v":27.8},{"s":"σₐₚ (637 nm) 27 June","t":9.37,"v":29.4},{"s":"σₐₚ (637 nm) 27 June","t":9.54,"v":25.7},{"s":"σₐₚ (637 nm) 27 June","t":9.71,"v":20.3},{"s":"σₐₚ (637 nm) 27 June","t":10.0,"v":18.2},{"s":"σₐₚ (637 nm) 27 June","t":10.24,"v":15.0},{"s":"σₐₚ (637 nm) 27 June","t":10.53,"v":13.9},{"s":"σₐₚ (637 nm) 27 June","t":10.88,"v":11.8},{"s":"σₐₚ (637 nm) 27 June","t":11.0,"v":12.3},{"s":"σₐₚ (637 nm) 27 June","t":11.17,"v":7.0},{"s":"σₐₚ (637 nm) 27 June","t":11.52,"v":4.3},{"s":"σₐₚ (637 nm) 27 June","t":11.75,"v":5.9},{"s":"σₐₚ (637 nm) 27 June","t":11.99,"v":4.3},{"s":"σₐₚ (637 nm) 27 June","t":12.33,"v":5.9},{"s":"σₐₚ (637 nm) 27 June","t":12.62,"v":6.4},{"s":"σₐₚ (637 nm) 27 June","t":13.03,"v":6.4},{"s":"σₐₚ (637 nm) 27 June","t":13.27,"v":9.6},{"s":"σₐₚ (637 nm) 27 June","t":13.38,"v":6.4},{"s":"σₐₚ (637 nm) 27 June","t":13.68,"v":5.9},{"s":"σₐₚ (637 nm) 27 June","t":13.97,"v":4.8},{"s":"σₐₚ (637 nm) 27 June","t":14.2,"v":8.0},{"s":"σₐₚ (637 nm) 27 June","t":14.49,"v":6.4},{"s":"σₐₚ (637 nm) 27 June","t":14.78,"v":8.0},{"s":"σₐₚ (637 nm) 27 June","t":15.01,"v":6.4},{"s":"σₐₚ (637 nm) 27 June","t":15.3,"v":9.6},{"s":"σₐₚ (637 nm) 27 June","t":15.54,"v":6.4},{"s":"σₐₚ (637 nm) 27 June","t":15.77,"v":11.2},{"s":"σₐₚ (637 nm) 27 June","t":16.06,"v":9.6},{"s":"σₐₚ (637 nm) 27 June","t":16.24,"v":6.4},{"s":"σₐₚ (637 nm) 27 June","t":16.41,"v":11.2},{"s":"σₐₚ (637 nm) 27 June","t":16.63,"v":8.6},{"s":"σₐₚ (637 nm) 27 June","t":16.76,"v":9.1},{"s":"σₐₚ (637 nm) 27 June","t":16.88,"v":12.3},{"s":"σₐₚ (637 nm) 27 June","t":17.17,"v":5.9},{"s":"σₐₚ (637 nm) 27 June","t":17.4,"v":8.6},{"s":"σₐₚ (637 nm) 27 June","t":17.63,"v":7.0},{"s":"σₐₚ (637 nm) 27 June","t":17.9,"v":12.8},{"s":"σₐₚ (637 nm) 27 June","t":18.22,"v":11.8},{"s":"σₐₚ (637 nm) 27 June","t":18.39,"v":14.4},{"s":"σₐₚ (637 nm) 27 June","t":18.68,"v":18.2},{"s":"σₐₚ (637 nm) 27 June","t":18.8,"v":12.3},{"s":"σₐₚ (637 nm) 27 June","t":19.09,"v":14.4},{"s":"σₐₚ (637 nm) 27 June","t":19.32,"v":12.8},{"s":"σₐₚ (637 nm) 27 June","t":19.55,"v":17.6},{"s":"σₐₚ (637 nm) 27 June","t":19.84,"v":14.4},{"s":"σₐₚ (637 nm) 27 June","t":19.96,"v":17.6},{"s":"σₐₚ (637 nm) 27 June","t":20.13,"v":50.3},{"s":"σₐₚ (637 nm) 27 June","t":20.31,"v":43.3},{"s":"σₐₚ (637 nm) 27 June","t":20.49,"v":27.3},{"s":"σₐₚ (637 nm) 27 June","t":20.63,"v":32.1},{"s":"σₐₚ (637 nm) 27 June","t":20.9,"v":15.0},{"s":"σₐₚ (637 nm) 27 June","t":21.16,"v":15.0},{"s":"σₐₚ (637 nm) 27 June","t":21.36,"v":24.6},{"s":"σₐₚ (637 nm) 27 June","t":21.59,"v":19.8},{"s":"σₐₚ (637 nm) 27 June","t":21.83,"v":23.5},{"s":"σₐₚ (637 nm) 27 June","t":21.97,"v":16.0},{"s":"σₐₚ (637 nm) 27 June","t":22.17,"v":18.2},{"s":"σₐₚ (637 nm) 27 June","t":22.41,"v":24.6},{"s":"σₐₚ (637 nm) 27 June","t":22.52,"v":23.5},{"s":"σₐₚ (637 nm) 27 June","t":22.67,"v":26.2},{"s":"σₐₚ (637 nm) 27 June","t":22.88,"v":21.9},{"s":"σₐₚ (637 nm) 27 June","t":23.11,"v":18.2},{"s":"σₐₚ (637 nm) 27 June","t":23.28,"v":8.6},{"s":"σₐₚ (637 nm) 27 June","t":23.46,"v":6.4},{"s":"σₐₚ (637 nm) 27 June","t":23.75,"v":5.9}
    ],
    "sb": [
      {"b":"sp","t":0,"lo":12.8,"hi":46.0},{"b":"sp","t":0.7,"lo":14.4,"hi":46.5},{"b":"sp","t":0.99,"lo":14.4,"hi":49.7},{"b":"sp","t":1.46,"lo":14.4,"hi":45.5},{"b":"sp","t":1.75,"lo":14.4,"hi":47.6},{"b":"sp","t":1.98,"lo":14.4,"hi":47.6},{"b":"sp","t":2.21,"lo":14.4,"hi":41.2},{"b":"sp","t":2.45,"lo":14.4,"hi":41.7},{"b":"sp","t":2.68,"lo":11.0,"hi":67.4},{"b":"sp","t":2.8,"lo":9.6,"hi":72.0},{"b":"sp","t":2.97,"lo":4.0,"hi":77.0},{"b":"sp","t":3.03,"lo":2.1,"hi":77.5},{"b":"sp","t":3.23,"lo":0.5,"hi":78.1},{"b":"sp","t":3.26,"lo":0.2,"hi":76.0},{"b":"sp","t":3.49,"lo":3.0,"hi":65.8},{"b":"sp","t":3.61,"lo":5.3,"hi":62.0},{"b":"sp","t":3.73,"lo":5.8,"hi":59.9},{"b":"sp","t":3.96,"lo":6.2,"hi":64.7},{"b":"sp","t":4.19,"lo":6.4,"hi":65.8},{"b":"sp","t":4.43,"lo":17.1,"hi":43.9},{"b":"sp","t":4.66,"lo":17.6,"hi":39.0},{"b":"sp","t":4.78,"lo":18.2,"hi":40.0},{"b":"sp","t":4.95,"lo":18.6,"hi":41.7},{"b":"sp","t":5.24,"lo":19.0,"hi":39.6},{"b":"sp","t":5.36,"lo":19.3,"hi":40.5},{"b":"sp","t":5.65,"lo":21.0,"hi":42.8},{"b":"sp","t":5.94,"lo":22.5,"hi":44.9},{"b":"sp","t":6.23,"lo":24.0,"hi":50.3},{"b":"sp","t":6.46,"lo":25.5,"hi":59.9},{"b":"sp","t":6.76,"lo":26.0,"hi":72.2},{"b":"sp","t":7.11,"lo":26.3,"hi":78.1},{"b":"sp","t":7.28,"lo":26.5,"hi":81.3},{"b":"sp","t":7.5,"lo":26.7,"hi":95.2},{"b":"sp","t":7.79,"lo":28.5,"hi":93.6},{"b":"sp","t":8.02,"lo":29.7,"hi":95.2},{"b":"sp","t":8.23,"lo":29.0,"hi":98.4},{"b":"sp","t":8.43,"lo":27.0,"hi":90.9},{"b":"sp","t":8.72,"lo":27.5,"hi":78.1},{"b":"sp","t":9.25,"lo":26.5,"hi":70.6},{"b":"sp","t":9.71,"lo":26.7,"hi":56.7},{"b":"sp","t":10.0,"lo":26.4,"hi":52.4},{"b":"sp","t":10.3,"lo":26.7,"hi":48.1},{"b":"sp","t":10.7,"lo":26.0,"hi":55.6},{"b":"sp","t":11.0,"lo":25.0,"hi":51.3},{"b":"sp","t":11.58,"lo":23.5,"hi":46.0},{"b":"sp","t":12.16,"lo":21.4,"hi":42.8},{"b":"sp","t":12.74,"lo":18.2,"hi":41.7},{"b":"sp","t":13.03,"lo":18.0,"hi":39.0},{"b":"sp","t":13.91,"lo":17.1,"hi":35.3},{"b":"sp","t":15.07,"lo":17.6,"hi":35.8},{"b":"sp","t":16.24,"lo":18.7,"hi":36.9},{"b":"sp","t":16.63,"lo":19.3,"hi":37.4},{"b":"sp","t":17.63,"lo":19.3,"hi":38.0},{"b":"sp","t":18.22,"lo":20.0,"hi":39.6},{"b":"sp","t":18.51,"lo":20.9,"hi":39.6},{"b":"sp","t":18.92,"lo":21.5,"hi":39.6},{"b":"sp","t":19.09,"lo":22.5,"hi":40.5},{"b":"sp","t":19.38,"lo":23.0,"hi":41.2},{"b":"sp","t":19.67,"lo":23.5,"hi":41.7},{"b":"sp","t":19.96,"lo":24.0,"hi":42.2},{"b":"sp","t":20.55,"lo":25.1,"hi":43.5},{"b":"sp","t":20.84,"lo":24.0,"hi":43.9},{"b":"sp","t":21.3,"lo":22.5,"hi":44.8},{"b":"sp","t":21.77,"lo":20.9,"hi":45.5},{"b":"sp","t":22.17,"lo":19.8,"hi":47.6},{"b":"sp","t":22.35,"lo":19.3,"hi":47.0},{"b":"sp","t":22.88,"lo":17.1,"hi":46.0},{"b":"sp","t":23.75,"lo":17.1,"hi":47.6},
      {"b":"ap","t":0,"lo":2.7,"hi":7.0},{"b":"ap","t":0.7,"lo":2.5,"hi":7.0},{"b":"ap","t":1.86,"lo":2.1,"hi":6.4},{"b":"ap","t":2.45,"lo":1.5,"hi":7.0},{"b":"ap","t":2.8,"lo":1.1,"hi":17.6},{"b":"ap","t":3.2,"lo":1.1,"hi":18.2},{"b":"ap","t":3.61,"lo":1.1,"hi":16.0},{"b":"ap","t":3.96,"lo":1.5,"hi":15.5},{"b":"ap","t":4.19,"lo":2.1,"hi":10.7},{"b":"ap","t":4.54,"lo":3.5,"hi":8.6},{"b":"ap","t":4.78,"lo":4.3,"hi":9.0},{"b":"ap","t":5.07,"lo":5.5,"hi":10.7},{"b":"ap","t":5.36,"lo":6.4,"hi":17.1},{"b":"ap","t":5.94,"lo":9.6,"hi":23.5},{"b":"ap","t":6.23,"lo":10.2,"hi":32.1},{"b":"ap","t":6.64,"lo":11.0,"hi":38.5},{"b":"ap","t":6.81,"lo":11.8,"hi":38.0},{"b":"ap","t":6.99,"lo":13.0,"hi":37.4},{"b":"ap","t":7.5,"lo":16.6,"hi":45.5},{"b":"ap","t":7.79,"lo":16.3,"hi":46.0},{"b":"ap","t":8.08,"lo":16.0,"hi":42.8},{"b":"ap","t":8.37,"lo":14.0,"hi":37.4},{"b":"ap","t":8.67,"lo":11.8,"hi":29.1},{"b":"ap","t":9.25,"lo":9.6,"hi":21.4},{"b":"ap","t":9.83,"lo":8.0,"hi":16.0},{"b":"ap","t":10.41,"lo":7.0,"hi":11.8},{"b":"ap","t":11.0,"lo":5.9,"hi":11.2},{"b":"ap","t":11.58,"lo":5.3,"hi":9.6},{"b":"ap","t":12.16,"lo":4.8,"hi":9.1},{"b":"ap","t":13.33,"lo":4.8,"hi":8.0},{"b":"ap","t":14.49,"lo":4.8,"hi":8.0},{"b":"ap","t":15.66,"lo":4.8,"hi":9.1},{"b":"ap","t":16.63,"lo":5.3,"hi":10.2},{"b":"ap","t":17.63,"lo":6.4,"hi":10.7},{"b":"ap","t":18.51,"lo":7.0,"hi":13.9},{"b":"ap","t":19.26,"lo":10.7,"hi":19.8},{"b":"ap","t":19.96,"lo":9.6,"hi":21.4},{"b":"ap","t":20.55,"lo":8.3,"hi":20.9},{"b":"ap","t":21.25,"lo":7.0,"hi":18.2},{"b":"ap","t":22.0,"lo":5.3,"hi":16.0},{"b":"ap","t":22.58,"lo":3.7,"hi":13.9},{"b":"ap","t":23.17,"lo":3.7,"hi":12.3},{"b":"ap","t":23.75,"lo":2.1,"hi":10.7}
    ]
  },
  "vconcat": [
    {
      "width": 1472,
      "height": 310,
      "layer": [
        {
          "layer": [
            {
              "data": {"name": "wb"},
              "mark": {"type": "area", "color": "#000000", "opacity": 0.09, "clip": true},
              "encoding": {
                "x": {"field": "t", "type": "quantitative", "scale": {"domain": [0, 24], "nice": false, "zero": false},
                  "axis": {"orient": "bottom", "title": null, "labels": false,
                    "values": [0,0.4,0.8,1.2,1.6,2,2.4,2.8,3.2,3.6,4,4.4,4.8,5.2,5.6,6,6.4,6.8,7.2,7.6,8,8.4,8.8,9.2,9.6,10,10.4,10.8,11.2,11.6,12,12.4,12.8,13.2,13.6,14,14.4,14.8,15.2,15.6,16,16.4,16.8,17.2,17.6,18,18.4,18.8,19.2,19.6,20,20.4,20.8,21.2,21.6,22,22.4,22.8,23.2,23.6,24],
                    "tickSize": {"condition": {"test": "abs(datum.value/4-round(datum.value/4))<0.001", "value": -13}, "value": -6}}},
                "y": {"field": "hi", "type": "quantitative", "scale": {"domain": [0.4, 1], "nice": false, "zero": false},
                  "axis": {"orient": "left", "title": "ω(637 nm)", "titlePadding": 16,
                    "values": [0.4,0.45,0.5,0.55,0.6,0.65,0.7,0.75,0.8,0.85,0.9,0.95,1],
                    "labelExpr": "abs(datum.value*5-round(datum.value*5))<0.001 ? format(datum.value,'~g') : ''",
                    "tickSize": {"condition": {"test": "abs(datum.value*5-round(datum.value*5))<0.001", "value": -13}, "value": -6}}},
                "y2": {"field": "lo"}
              }
            },
            {
              "data": {"name": "wl"},
              "transform": [{"filter": "datum.s === 'ω typical'"}],
              "mark": {"type": "line", "clip": true, "strokeWidth": 1.6},
              "encoding": {
                "x": {"field": "t", "type": "quantitative"},
                "y": {"field": "v", "type": "quantitative"},
                "color": {"field": "s", "type": "nominal",
                  "scale": {"domain": ["ω typical", "åₛₚ typical"], "range": ["#777777", "#ff0000"]},
                  "legend": {"title": null, "orient": "none", "legendX": 23, "legendY": 148, "rowPadding": -7, "symbolStrokeWidth": 2}}
              }
            },
            {
              "data": {"name": "wl"},
              "transform": [{"filter": "datum.s === 'ω 27 June'"}],
              "mark": {"type": "line", "clip": true, "strokeWidth": 3.5},
              "encoding": {
                "x": {"field": "t", "type": "quantitative"},
                "y": {"field": "v", "type": "quantitative"},
                "stroke": {"field": "s", "type": "nominal",
                  "scale": {"domain": ["ω 27 June", "åₛₚ 27 June"], "range": ["#000000", "#9b1530"]},
                  "legend": {"title": null, "orient": "none", "legendX": 23, "legendY": 214, "rowPadding": -15, "symbolStrokeWidth": 4.5}}
              }
            }
          ]
        },
        {
          "layer": [
            {
              "data": {"name": "ab"},
              "mark": {"type": "area", "color": "#ff0000", "opacity": 0.17, "clip": true},
              "encoding": {
                "x": {"field": "t", "type": "quantitative", "scale": {"domain": [0, 24], "nice": false, "zero": false},
                  "axis": {"orient": "top", "title": null, "labels": false,
                    "values": [0,0.4,0.8,1.2,1.6,2,2.4,2.8,3.2,3.6,4,4.4,4.8,5.2,5.6,6,6.4,6.8,7.2,7.6,8,8.4,8.8,9.2,9.6,10,10.4,10.8,11.2,11.6,12,12.4,12.8,13.2,13.6,14,14.4,14.8,15.2,15.6,16,16.4,16.8,17.2,17.6,18,18.4,18.8,19.2,19.6,20,20.4,20.8,21.2,21.6,22,22.4,22.8,23.2,23.6,24],
                    "tickSize": {"condition": {"test": "abs(datum.value/4-round(datum.value/4))<0.001", "value": -13}, "value": -6}}},
                "y": {"field": "hi", "type": "quantitative", "scale": {"domain": [0.5, 2], "nice": false, "zero": false},
                  "axis": {"orient": "right", "title": "åₛₚ (450–700 nm)", "titlePadding": 14, "titleAngle": 270, "titleBaseline": "top",
                    "values": [0.5,0.625,0.75,0.875,1,1.125,1.25,1.375,1.5,1.625,1.75,1.875,2],
                    "labelExpr": "abs(datum.value*2-round(datum.value*2))<0.001 ? format(datum.value,'~g') : ''",
                    "tickSize": {"condition": {"test": "abs(datum.value*2-round(datum.value*2))<0.001", "value": -13}, "value": -6}}},
                "y2": {"field": "lo"}
              }
            },
            {
              "data": {"name": "al"},
              "transform": [{"filter": "datum.s === 'åₛₚ typical'"}],
              "mark": {"type": "line", "clip": true, "strokeWidth": 2},
              "encoding": {
                "x": {"field": "t", "type": "quantitative"},
                "y": {"field": "v", "type": "quantitative"},
                "color": {"field": "s", "type": "nominal"}
              }
            },
            {
              "data": {"name": "al"},
              "transform": [{"filter": "datum.s === 'åₛₚ 27 June'"}],
              "mark": {"type": "line", "clip": true, "strokeWidth": 3.5},
              "encoding": {
                "x": {"field": "t", "type": "quantitative"},
                "y": {"field": "v", "type": "quantitative"},
                "stroke": {"field": "s", "type": "nominal"}
              }
            }
          ]
        }
      ],
      "resolve": {"scale": {"x": "independent", "y": "independent"}}
    },
    {
      "width": 1472,
      "height": 309,
      "layer": [
        {
          "layer": [
            {
              "data": {"name": "sb"},
              "transform": [{"filter": "datum.b === 'sp'"}],
              "mark": {"type": "area", "color": "#ff0000", "opacity": 0.17, "clip": true},
              "encoding": {
                "x": {"field": "t", "type": "quantitative", "scale": {"domain": [0, 24], "nice": false, "zero": false},
                  "axis": {"orient": "bottom", "title": "Time (UTC)", "titleY": 46, "titleBaseline": "top", "labelPadding": 25,
                    "values": [0,0.4,0.8,1.2,1.6,2,2.4,2.8,3.2,3.6,4,4.4,4.8,5.2,5.6,6,6.4,6.8,7.2,7.6,8,8.4,8.8,9.2,9.6,10,10.4,10.8,11.2,11.6,12,12.4,12.8,13.2,13.6,14,14.4,14.8,15.2,15.6,16,16.4,16.8,17.2,17.6,18,18.4,18.8,19.2,19.6,20,20.4,20.8,21.2,21.6,22,22.4,22.8,23.2,23.6,24],
                    "labelExpr": "abs(datum.value/4-round(datum.value/4))<0.001 ? pad(toString(round(datum.value)%24),2,'0','left')+':00' : ''",
                    "tickSize": {"condition": {"test": "abs(datum.value/4-round(datum.value/4))<0.001", "value": -13}, "value": -6}}},
                "y": {"field": "hi", "type": "quantitative", "scale": {"domain": [0, 100], "nice": false, "zero": false},
                  "axis": {"orient": "left", "title": "σ(λ)(Mm⁻¹)", "titlePadding": 10,
                    "values": [0,6.25,12.5,18.75,25,31.25,37.5,43.75,50,56.25,62.5,68.75,75,81.25,87.5,93.75,100],
                    "labelExpr": "abs(datum.value/25-round(datum.value/25))<0.001 ? format(datum.value,'d') : ''",
                    "tickSize": {"condition": {"test": "abs(datum.value/25-round(datum.value/25))<0.001", "value": -13}, "value": -6}}},
                "y2": {"field": "lo"}
              }
            },
            {
              "data": {"name": "sb"},
              "transform": [{"filter": "datum.b === 'ap'"}],
              "mark": {"type": "area", "color": "#000000", "opacity": 0.09, "clip": true},
              "encoding": {
                "x": {"field": "t", "type": "quantitative"},
                "y": {"field": "hi", "type": "quantitative"},
                "y2": {"field": "lo"}
              }
            },
            {
              "data": {"name": "sl"},
              "transform": [{"filter": "datum.s === 'σₛₚ (550 nm) typical'"}],
              "mark": {"type": "line", "clip": true, "strokeWidth": 2},
              "encoding": {
                "x": {"field": "t", "type": "quantitative"},
                "y": {"field": "v", "type": "quantitative"},
                "color": {"field": "s", "type": "nominal",
                  "scale": {"domain": ["σₛₚ (550 nm) typical", "σₐₚ (637 nm) typical"], "range": ["#ff0000", "#808080"]},
                  "legend": {"title": null, "orient": "none", "legendX": 880, "legendY": 15, "rowPadding": 5, "symbolStrokeWidth": 2}}
              }
            },
            {
              "data": {"name": "sl"},
              "transform": [{"filter": "datum.s === 'σₐₚ (637 nm) typical'"}],
              "mark": {"type": "line", "clip": true, "strokeWidth": 1.6},
              "encoding": {
                "x": {"field": "t", "type": "quantitative"},
                "y": {"field": "v", "type": "quantitative"},
                "color": {"field": "s", "type": "nominal"}
              }
            }
          ]
        },
        {
          "layer": [
            {
              "data": {"name": "sl"},
              "transform": [{"filter": "datum.s === 'σₛₚ (550 nm) 27 June'"}],
              "mark": {"type": "line", "clip": true, "strokeWidth": 4},
              "encoding": {
                "x": {"field": "t", "type": "quantitative", "scale": {"domain": [0, 24], "nice": false, "zero": false},
                  "axis": {"orient": "top", "title": null, "labels": false,
                    "values": [0,0.4,0.8,1.2,1.6,2,2.4,2.8,3.2,3.6,4,4.4,4.8,5.2,5.6,6,6.4,6.8,7.2,7.6,8,8.4,8.8,9.2,9.6,10,10.4,10.8,11.2,11.6,12,12.4,12.8,13.2,13.6,14,14.4,14.8,15.2,15.6,16,16.4,16.8,17.2,17.6,18,18.4,18.8,19.2,19.6,20,20.4,20.8,21.2,21.6,22,22.4,22.8,23.2,23.6,24],
                    "tickSize": {"condition": {"test": "abs(datum.value/4-round(datum.value/4))<0.001", "value": -13}, "value": -6}}},
                "y": {"field": "v", "type": "quantitative", "scale": {"domain": [0, 100], "nice": false, "zero": false},
                  "axis": {"orient": "right", "title": null, "labels": false,
                    "values": [0,6.25,12.5,18.75,25,31.25,37.5,43.75,50,56.25,62.5,68.75,75,81.25,87.5,93.75,100],
                    "tickSize": {"condition": {"test": "abs(datum.value/25-round(datum.value/25))<0.001", "value": -13}, "value": -6}}},
                "stroke": {"field": "s", "type": "nominal",
                  "scale": {"domain": ["σₛₚ (550 nm) 27 June", "σₐₚ (637 nm) 27 June"], "range": ["#c00000", "#000000"]},
                  "legend": {"title": null, "orient": "none", "legendX": 880, "legendY": 93, "rowPadding": 0, "symbolStrokeWidth": 4.5}}
              }
            },
            {
              "data": {"name": "sl"},
              "transform": [{"filter": "datum.s === 'σₐₚ (637 nm) 27 June'"}],
              "mark": {"type": "line", "clip": true, "strokeWidth": 3.5},
              "encoding": {
                "x": {"field": "t", "type": "quantitative"},
                "y": {"field": "v", "type": "quantitative"},
                "stroke": {"field": "s", "type": "nominal"}
              }
            }
          ]
        }
      ],
      "resolve": {"scale": {"x": "independent", "y": "independent"}}
    }
  ],
  "spacing": 48,
  "bounds": "flush",
  "resolve": {"scale": {"color": "independent", "stroke": "independent"}, "legend": {"color": "independent", "stroke": "independent"}}
}
